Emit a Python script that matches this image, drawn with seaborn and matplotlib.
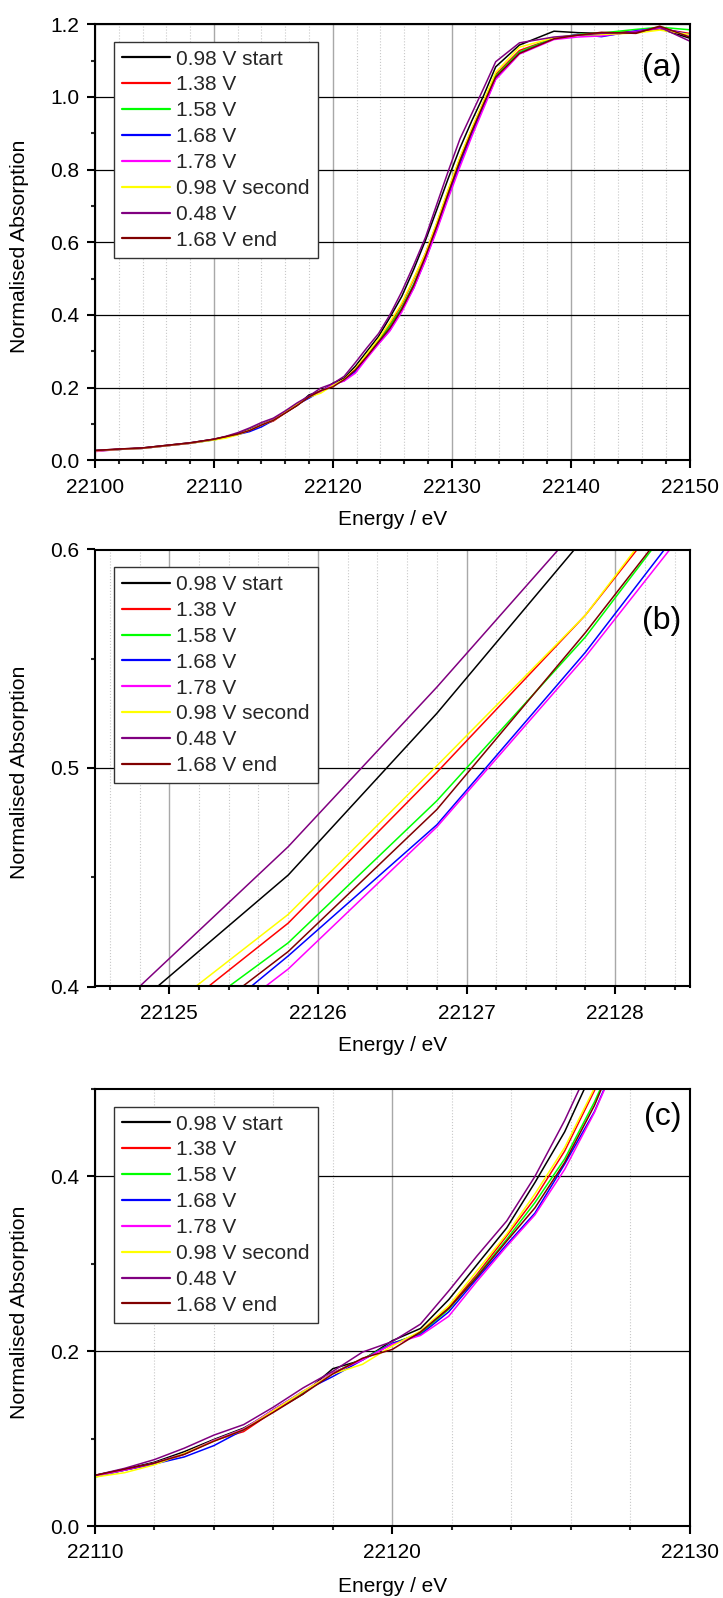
import numpy as np
import pandas as pd
import matplotlib
matplotlib.use("Agg")
import matplotlib.pyplot as plt
from matplotlib.ticker import MultipleLocator, FormatStrFormatter
from matplotlib.lines import Line2D
import seaborn as sns

# ---------------- data ----------------
energy = [22100, 22102, 22104, 22106, 22108, 22110,
          22111, 22112, 22113, 22114, 22115, 22116, 22117, 22118, 22119, 22120,
          22120.95, 22121.9, 22122.85, 22123.85, 22124.8, 22125.8, 22126.8, 22127.8,
          22128.75, 22129.7, 22130.7, 22131.7, 22132.7, 22133.7,
          22135.7, 22138.6, 22140.6, 22142.6, 22145.5, 22147.5, 22150.0]

series_labels = ["0.98 V start", "1.38 V", "1.58 V", "1.68 V", "1.78 V",
                 "0.98 V second", "0.48 V", "1.68 V end"]
series_colors = ["#000000", "#ff0000", "#00ff00", "#0000ff", "#ff00ff",
                 "#ffff00", "#800080", "#800000"]

v098_start = [0.027, 0.030, 0.034, 0.041, 0.048, 0.058,
              0.065, 0.073, 0.085, 0.099, 0.112, 0.131, 0.151, 0.180, 0.190, 0.212,
              0.226, 0.259, 0.299, 0.341, 0.393, 0.451, 0.525, 0.606,
              0.690, 0.775, 0.860, 0.935, 1.005, 1.083,
              1.143, 1.181, 1.177, 1.175, 1.180, 1.188, 1.162]
v138 = [0.026, 0.030, 0.033, 0.040, 0.047, 0.057,
        0.064, 0.071, 0.082, 0.098, 0.108, 0.131, 0.152, 0.175, 0.191, 0.208,
        0.221, 0.250, 0.288, 0.332, 0.375, 0.429, 0.498, 0.570,
        0.652, 0.742, 0.832, 0.912, 0.988, 1.062,
        1.128, 1.162, 1.170, 1.175, 1.180, 1.188, 1.175]
v158 = [0.025, 0.030, 0.033, 0.040, 0.047, 0.056,
        0.064, 0.072, 0.083, 0.098, 0.111, 0.133, 0.153, 0.175, 0.191, 0.209,
        0.220, 0.248, 0.286, 0.328, 0.370, 0.420, 0.485, 0.560,
        0.645, 0.735, 0.826, 0.908, 0.985, 1.058,
        1.124, 1.162, 1.172, 1.176, 1.186, 1.192, 1.185]
v168 = [0.026, 0.030, 0.033, 0.040, 0.047, 0.057,
        0.064, 0.071, 0.079, 0.092, 0.110, 0.133, 0.154, 0.171, 0.190, 0.209,
        0.219, 0.245, 0.283, 0.322, 0.358, 0.414, 0.474, 0.553,
        0.637, 0.725, 0.816, 0.898, 0.975, 1.050,
        1.120, 1.160, 1.172, 1.166, 1.182, 1.190, 1.172]
v178 = [0.024, 0.030, 0.033, 0.040, 0.047, 0.057,
        0.064, 0.072, 0.083, 0.098, 0.111, 0.133, 0.154, 0.175, 0.190, 0.208,
        0.218, 0.240, 0.280, 0.320, 0.356, 0.408, 0.473, 0.551,
        0.633, 0.720, 0.808, 0.892, 0.970, 1.048,
        1.118, 1.158, 1.165, 1.168, 1.180, 1.190, 1.170]
v098_second = [0.026, 0.030, 0.033, 0.040, 0.047, 0.056,
               0.061, 0.070, 0.083, 0.097, 0.110, 0.132, 0.154, 0.174, 0.185, 0.206,
               0.223, 0.252, 0.292, 0.334, 0.380, 0.433, 0.501, 0.570,
               0.655, 0.745, 0.835, 0.915, 0.990, 1.068,
               1.137, 1.163, 1.170, 1.172, 1.176, 1.184, 1.172]
v048 = [0.027, 0.031, 0.034, 0.041, 0.048, 0.058,
        0.066, 0.076, 0.089, 0.104, 0.116, 0.136, 0.158, 0.177, 0.199, 0.211,
        0.231, 0.269, 0.309, 0.349, 0.400, 0.464, 0.537, 0.614,
        0.705, 0.795, 0.885, 0.955, 1.025, 1.097,
        1.149, 1.165, 1.170, 1.175, 1.178, 1.192, 1.154]
v168_end = [0.027, 0.031, 0.034, 0.041, 0.048, 0.058,
            0.065, 0.072, 0.082, 0.097, 0.110, 0.130, 0.151, 0.174, 0.192, 0.202,
            0.222, 0.249, 0.285, 0.326, 0.364, 0.416, 0.481, 0.562,
            0.645, 0.734, 0.825, 0.906, 0.982, 1.055,
            1.120, 1.160, 1.170, 1.178, 1.175, 1.195, 1.165]

series_values = [v098_start, v138, v158, v168, v178, v098_second, v048, v168_end]

panel_names = ["(a)", "(b)", "(c)"]
panel_xlim = [(22100, 22150), (22124.5, 22128.5), (22110, 22130)]
panel_ylim = [(0.0, 1.2), (0.4, 0.6), (0.0, 0.5)]
panel_xmajor = [10, 1, 10]
panel_xminor = [2, 0.2, 2]
panel_ymajor = [0.2, 0.1, 0.2]
panel_yminor = [0.1, 0.05, 0.1]

# ---------------- build long table ----------------
rows = []
for lab, vals in zip(series_labels, series_values):
    for e, v in zip(energy, vals):
        rows.append((lab, e, v))
df = pd.DataFrame(rows, columns=["Series", "Energy", "Absorption"])
palette = dict(zip(series_labels, series_colors))

# ---------------- style ----------------
sns.set_theme(style="ticks")
plt.rcParams["font.family"] = ["Liberation Sans", "DejaVu Sans"]
plt.rcParams["axes.linewidth"] = 1.5

W, H = 723, 1598
fig = plt.figure(figsize=(W / 100, H / 100), dpi=100)

# pixel boxes (left, right, top, bottom)
boxes = [(95, 689.5, 24.3, 460.3), (95, 689.5, 549.5, 986.5), (95, 689.5, 1089, 1526)]
label_y = [0.90, 0.836, 0.936]
xlabel_gap = [49.5, 49.5, 51.5]
legend_gap = [17.4, 17.7, 17.7]

for i, (l, r, t, b) in enumerate(boxes):
    ax = fig.add_axes([l / W, 1 - b / H, (r - l) / W, (b - t) / H])
    sns.lineplot(data=df, x="Energy", y="Absorption", hue="Series",
                 hue_order=series_labels, palette=palette, estimator=None,
                 sort=False, linewidth=1.1, legend=False, ax=ax)
    ax.set_xlim(*panel_xlim[i])
    ax.set_ylim(*panel_ylim[i])
    ax.xaxis.set_major_locator(MultipleLocator(panel_xmajor[i]))
    ax.xaxis.set_minor_locator(MultipleLocator(panel_xminor[i]))
    ax.yaxis.set_major_locator(MultipleLocator(panel_ymajor[i]))
    ax.yaxis.set_minor_locator(MultipleLocator(panel_yminor[i]))
    ax.xaxis.set_major_formatter(FormatStrFormatter("%d"))
    ax.yaxis.set_major_formatter(FormatStrFormatter("%.1f"))

    ax.set_axisbelow(True)
    ax.grid(which="major", axis="x", color="#a8a8a8", linewidth=1.0)
    ax.grid(which="major", axis="y", color="#000000", linewidth=0.9)
    ax.grid(which="minor", axis="x", color="#c8c8c8", linewidth=0.8, linestyle=":")

    for s in ax.spines.values():
        s.set_linewidth(1.5)
        s.set_color("black")
    ax.tick_params(which="major", direction="out", length=6, width=1.5,
                   labelsize=15, colors="black", top=False, right=False)
    ax.tick_params(which="minor", direction="out", length=3.2, width=1.5,
                   top=False, right=False)
    ax.tick_params(axis="x", which="major", pad=6.5)
    ax.tick_params(axis="y", which="major", pad=5.3)

    ax.set_xlabel("Energy / eV", fontsize=15, color="black")
    ax.set_ylabel("Normalised Absorption", fontsize=15.3, color="black")
    ax.xaxis.set_label_coords(0.5, -xlabel_gap[i] / (b - t))
    ax.yaxis.set_label_coords(-(95 - 29) / (r - l), 0.49)

    handles = [Line2D([], [], color=c, linewidth=1.6) for c in series_colors]
    leg = ax.legend(handles, series_labels, loc="upper left",
                    bbox_to_anchor=((114 - l) / (r - l), 1 - legend_gap[i] / (b - t)),
                    borderaxespad=0, fontsize=15, frameon=True, fancybox=False,
                    framealpha=1, edgecolor="#333333", handlelength=2.3,
                    handletextpad=0.32, labelspacing=0.33, borderpad=0.38)
    leg.get_frame().set_linewidth(1.0)

    ax.text((681 - l) / (r - l), label_y[i], panel_names[i], transform=ax.transAxes,
            ha="right", va="center", fontsize=23, color="black")

fig.savefig("out.png", dpi=100)
